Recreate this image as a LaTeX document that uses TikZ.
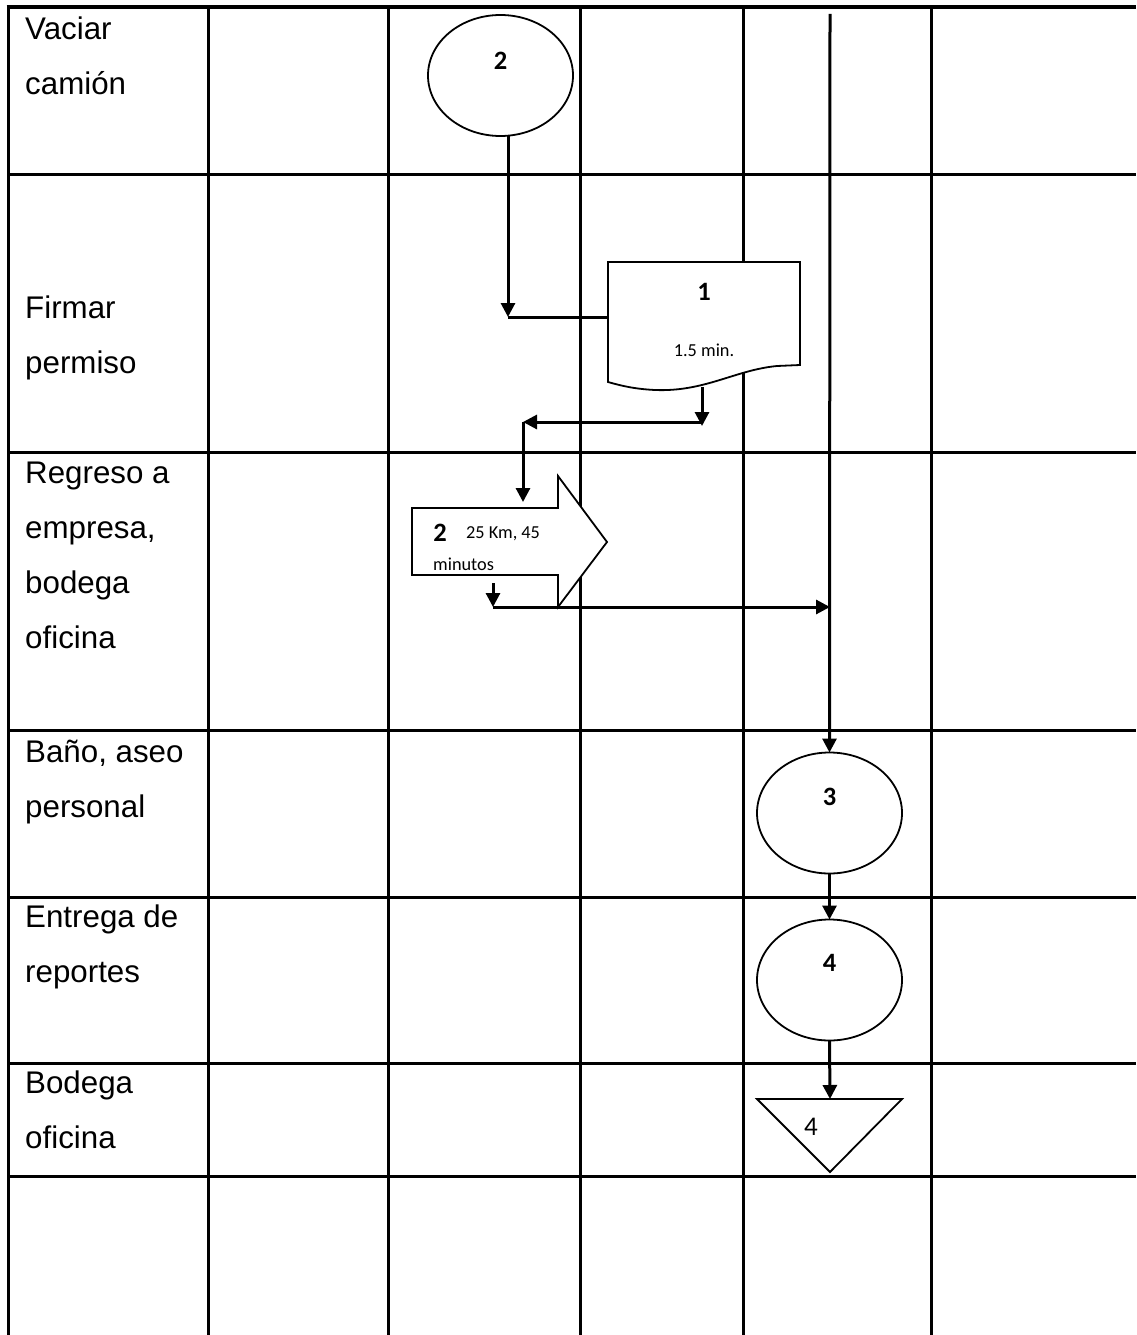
\documentclass[tikz,border=0pt]{standalone}
\usepackage{fontspec}
\setmainfont{Liberation Sans}
\newfontfamily\calibri{Carlito}
\usetikzlibrary{arrows.meta,shapes.geometric}

\begin{document}
\begin{tikzpicture}[x=1pt,y=-1pt,
  gridline/.style={line width=3pt},
  topline/.style={line width=4.2pt},
  shapeline/.style={draw,line width=1.8pt,fill=white},
  oval/.style={ellipse,shapeline,minimum width=145pt,minimum height=121pt,inner sep=0pt,outer sep=0pt},
  conn/.style={line width=3pt},
  arr/.style={conn,-{Triangle[length=14pt,width=14pt]}},
  rowlab/.style={anchor=base west,inner sep=0pt,font=\fontsize{31.3}{55}\selectfont},
  num/.style={inner sep=0pt,font=\calibri\bfseries\fontsize{26.5}{30}\selectfont},
  small/.style={inner sep=0pt,font=\calibri\fontsize{18.3}{22}\selectfont}]
\useasboundingbox (0,0) rectangle (1136,1335);

% table grid
\foreach \x in {8,208,388,580,743,931}
  \draw[gridline] (\x,7) -- (\x,1335);
\foreach \y in {174,452,730,897,1063,1176}
  \draw[gridline] (8,\y) -- (1136,\y);
\draw[topline] (6.5,7) -- (1136,7);

% activity names in the first column
\foreach \yy/\txt [count=\i] in {40/Vaciar,95/camión,318/Firmar,373/permiso,
    483/Regreso a,538/{empresa,},593/bodega,648/oficina,
    762/{Baño, aseo},817/personal,927/Entrega de,982/reportes,
    1093/Bodega,1148/oficina}
  \node[rowlab] (lab\i) at (25,\yy) {\txt};

% operation 2
\node[oval] (o2) at (500.5,75.5) {};
\node[num] (t2) at ([yshift=15pt]o2.center) {2};

% document 1
\node[inner sep=0pt,minimum width=192pt,minimum height=120pt] (doc) at (704,322) {};
\draw[shapeline] (608,262) -- (800,262) -- (800,365) -- (777,366)
  .. controls (735,370) and (705,392) .. (655,390)
  .. controls (635,389) and (622,386) .. (608,382) -- cycle;
\node[num] (t1) at (704,292) {1};
\node[small] (t1b) at (704,350) {1.5 min.};

% transport 2 (block arrow)
\draw[shapeline] (412,508) -- (558,508) -- (558,476) -- (607,542)
  -- (558,607) -- (558,575) -- (412,575) -- cycle;
\node[inner sep=0pt,minimum width=195pt,minimum height=131pt] (tr) at (509.5,541.5) {};
\node[num] (t3) at (440,533) {2};
\node[small,anchor=west] (t3b) at (466,534) {25 Km, 45};
\node[small,anchor=west] (t3c) at (433,564) {minutos};

% operations 3 and 4
\node[oval] (o3) at (829.5,813) {};
\node[num] at ([yshift=16pt]o3.center) {3};
\node[oval] (o4) at (829.5,980) {};
\node[num] at ([yshift=17pt]o4.center) {4};

% storage 4
\draw[shapeline] (757,1099) -- (902,1099) -- (830,1172) -- cycle;
\coordinate (st) at (830,1099);
\node[inner sep=0pt,font=\calibri\fontsize{27}{30}\selectfont] (t4) at (811,1127) {4};

% connectors
\coordinate (a1) at (508,317);
\coordinate (a2top) at (702,387);
\coordinate (a2) at (702,422);
\coordinate (a3) at (523,422);
\coordinate (a3end) at (523,502);
\coordinate (b1top) at (493,583);
\coordinate (b1) at (493,607);
\coordinate (b2) at (830,607);
\coordinate (vtop) at (830,14);

\draw[arr] ([xshift=7.5pt]o2.south) -- (a1);
\draw[conn] (a1) -- (a1 -| doc.west);
\draw[arr] (a2top) -- ([yshift=-4pt]a2);
\draw[arr] (a2) -- (a3);
\draw[arr] (a3) -- (a3end);
\draw[arr] (b1top) -- (b1);
\draw[arr] (b1) -- (b2);
\draw[arr] (vtop) -- (o3.north);
\draw[arr] (o3.south) -- (o4.north);
\draw[arr] (o4.south) -- (st);
\end{tikzpicture}
\end{document}
